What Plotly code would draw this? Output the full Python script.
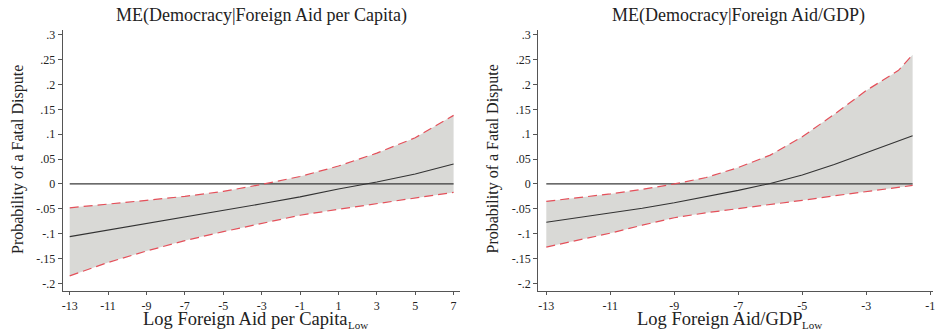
import plotly.graph_objects as go

# Marginal effect of democracy on fatal dispute probability, with 95% bounds
aid_pc_x = [-13, -11, -9, -7, -5, -3, -1, 1, 3, 5, 7]
aid_pc_me = [-0.106, -0.093, -0.080, -0.067, -0.053, -0.040, -0.026, -0.010, 0.004, 0.020, 0.040]
aid_pc_hi = [-0.048, -0.041, -0.033, -0.025, -0.015, -0.001, 0.015, 0.036, 0.062, 0.093, 0.138]
aid_pc_lo = [-0.185, -0.158, -0.135, -0.114, -0.096, -0.080, -0.063, -0.051, -0.040, -0.029, -0.017]

aid_gdp_x = [-13, -12, -11, -10, -9, -8, -7, -6, -5, -4, -3, -2, -1.55]
aid_gdp_me = [-0.077, -0.068, -0.059, -0.049, -0.038, -0.026, -0.013, 0.001, 0.018, 0.039, 0.063, 0.086, 0.097]
aid_gdp_hi = [-0.035, -0.028, -0.020, -0.011, 0.000, 0.013, 0.033, 0.058, 0.095, 0.140, 0.188, 0.228, 0.260]
aid_gdp_lo = [-0.127, -0.113, -0.099, -0.083, -0.068, -0.058, -0.050, -0.042, -0.033, -0.024, -0.015, -0.007, -0.003]

y_ticks = [-0.2, -0.15, -0.1, -0.05, 0, 0.05, 0.1, 0.15, 0.2, 0.25, 0.3]
y_labels = ["-.2", "-.15", "-.1", "-.05", "0", ".05", ".1", ".15", ".2", ".25", ".3"]
left_xticks = [-13, -11, -9, -7, -5, -3, -1, 1, 3, 5, 7]
right_xticks = [-13, -11, -9, -7, -5, -3, -1]

FONT = "Liberation Serif"
FILL = "#d9d9d6"
CI_COLOR = "#e4505a"
AXIS_COLOR = "#555555"

fig = go.Figure()


def add_panel(x, me, hi, lo, xa, ya):
    fig.add_trace(go.Scatter(x=x, y=hi, mode="lines", line=dict(width=0),
                             xaxis=xa, yaxis=ya, showlegend=False, hoverinfo="skip"))
    fig.add_trace(go.Scatter(x=x, y=lo, mode="lines", line=dict(width=0),
                             fill="tonexty", fillcolor=FILL,
                             xaxis=xa, yaxis=ya, showlegend=False, hoverinfo="skip"))
    fig.add_trace(go.Scatter(x=[x[0], x[-1]], y=[0, 0], mode="lines",
                             line=dict(color="#3a3a3a", width=1.3),
                             xaxis=xa, yaxis=ya, showlegend=False))
    for band in (hi, lo):
        fig.add_trace(go.Scatter(x=x, y=band, mode="lines",
                                 line=dict(color=CI_COLOR, width=1.2, dash="9px,5px"),
                                 xaxis=xa, yaxis=ya, showlegend=False))
    fig.add_trace(go.Scatter(x=x, y=me, mode="lines",
                             line=dict(color="#333333", width=1.1),
                             xaxis=xa, yaxis=ya, showlegend=False))


add_panel(aid_pc_x, aid_pc_me, aid_pc_hi, aid_pc_lo, "x", "y")
add_panel(aid_gdp_x, aid_gdp_me, aid_gdp_hi, aid_gdp_lo, "x2", "y2")

ydom = [0.118, 0.915]
axis_common = dict(showgrid=False, zeroline=False, showline=True, linecolor=AXIS_COLOR,
                   linewidth=1.2, ticks="outside", tickcolor=AXIS_COLOR,
                   ticklabeloverflow="allow")
xtickfont = dict(family=FONT, size=12, color="#222")
ytickfont = dict(family=FONT, size=12, color="#222")

fig.update_layout(
    width=935, height=330,
    margin=dict(l=0, r=0, t=0, b=0),
    paper_bgcolor="white", plot_bgcolor="white",
    font=dict(family=FONT, color="#222"),
    xaxis=dict(domain=[0.0663, 0.492], range=[-13.36, 7.31],
               tickvals=left_xticks, ticktext=[str(v) for v in left_xticks],
               tickfont=xtickfont, ticklen=3, anchor="y", **axis_common),
    yaxis=dict(domain=ydom, range=[-0.216, 0.31], tickvals=y_ticks, ticktext=y_labels,
               tickfont=ytickfont, ticklen=4, anchor="x", **axis_common),
    xaxis2=dict(domain=[0.5765, 1.0], range=[-13.25, -0.913],
                tickvals=right_xticks, ticktext=[str(v) for v in right_xticks],
                tickfont=xtickfont, ticklen=3, anchor="y2", **axis_common),
    yaxis2=dict(domain=ydom, range=[-0.216, 0.31], tickvals=y_ticks, ticktext=y_labels,
                tickfont=ytickfont, ticklen=4, anchor="x2", **axis_common),
)

title_font = dict(family=FONT, size=18, color="#222")
xtitle_font = dict(family=FONT, size=18.5, color="#222")
sub_font = dict(family=FONT, size=11, color="#222")
ytitle_font = dict(family=FONT, size=16, color="#222")


def note(text, x, y, font, xanchor="center", angle=0):
    fig.add_annotation(xref="paper", yref="paper", x=x / 935, y=1 - y / 330,
                       xanchor=xanchor, yanchor="middle", text=text, textangle=angle,
                       showarrow=False, font=font)


note("ME(Democracy|Foreign Aid per Capita)", 261, 14, title_font)
note("ME(Democracy|Foreign Aid/GDP)", 740, 14, title_font)

# x-axis titles with a "Low" subscript tucked against the last letter
note("Log Foreign Aid per Capita", 350, 319, xtitle_font, xanchor="right")
note("Low", 346, 325, sub_font, xanchor="left")
note("Log Foreign Aid/GDP", 806, 319, xtitle_font, xanchor="right")
note("Low", 802, 325, sub_font, xanchor="left")

note("Probability of a Fatal Dispute", 17, 158, ytitle_font, angle=-90)
note("Probability of a Fatal Dispute", 494, 158, ytitle_font, angle=-90)

fig.write_html("out.html")
